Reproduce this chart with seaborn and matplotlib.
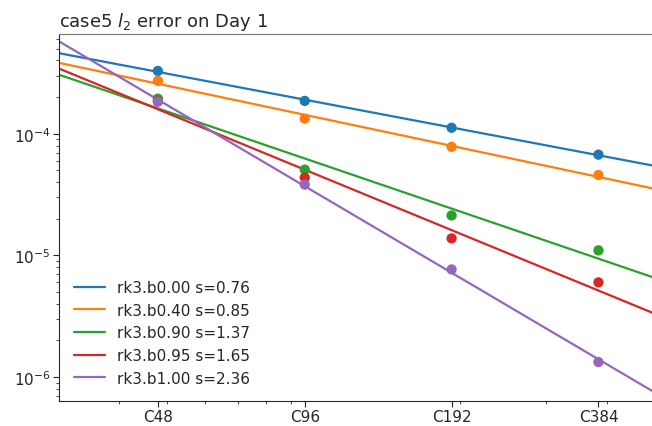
import numpy as np
import pandas as pd
import matplotlib
matplotlib.use("Agg")
import matplotlib.pyplot as plt
import seaborn as sns

# resolutions and errors
res = [48, 96, 192, 384]
res_labels = ["C48", "C96", "C192", "C384"]
schemes = ["rk3.b0.00", "rk3.b0.40", "rk3.b0.90", "rk3.b0.95", "rk3.b1.00"]
err_b000 = [3.28e-4, 1.86e-4, 1.12e-4, 6.73e-5]
err_b040 = [2.72e-4, 1.33e-4, 7.8e-5, 4.58e-5]
err_b090 = [1.94e-4, 5.07e-5, 2.13e-5, 1.10e-5]
err_b095 = [1.85e-4, 4.36e-5, 1.38e-5, 6.0e-6]
err_b100 = [1.83e-4, 3.82e-5, 7.67e-6, 1.33e-6]
errors = [err_b000, err_b040, err_b090, err_b095, err_b100]

sns.set_style("ticks")
colors = sns.color_palette("tab10", 5)

fig = plt.figure(figsize=(6.52, 4.27), dpi=100)
ax = fig.add_axes([59 / 652, 25 / 427, 634 / 652, 367 / 427])

xfit = np.geomspace(30.1, 600, 50)
for name, err, c in zip(schemes, errors, colors):
    # power-law fit in log-log space
    p = np.polyfit(np.log(res), np.log(err), 1)
    fit_df = pd.DataFrame({"x": xfit, "y": np.exp(np.polyval(p, np.log(xfit)))})
    sns.lineplot(data=fit_df, x="x", y="y", color=c, lw=1.6, ax=ax,
                 label=f"{name} s={-p[0]:.2f}")
    pts = pd.DataFrame({"x": res, "y": err})
    sns.scatterplot(data=pts, x="x", y="y", color=c, s=55, edgecolor="none",
                    ax=ax, zorder=3)

ax.set_xscale("log")
ax.set_yscale("log")
ax.set_xlim(30.1, 600)
ax.set_ylim(6.36e-7, 6.6e-4)
ax.set_xticks(res)
ax.set_xticklabels(res_labels)
ax.set_xlabel("")
ax.set_ylabel("")
ax.tick_params(labelsize=11, which="major", length=4, pad=2)
ax.tick_params(which="minor", length=2.5)
ax.spines["top"].set_color("#777777")
ax.set_title("case5 $l_2$ error on Day 1", loc="left", fontsize=13)
ax.legend(frameon=False, fontsize=11, loc="lower left", borderaxespad=0.6)

fig.savefig("out.png", dpi=100)
